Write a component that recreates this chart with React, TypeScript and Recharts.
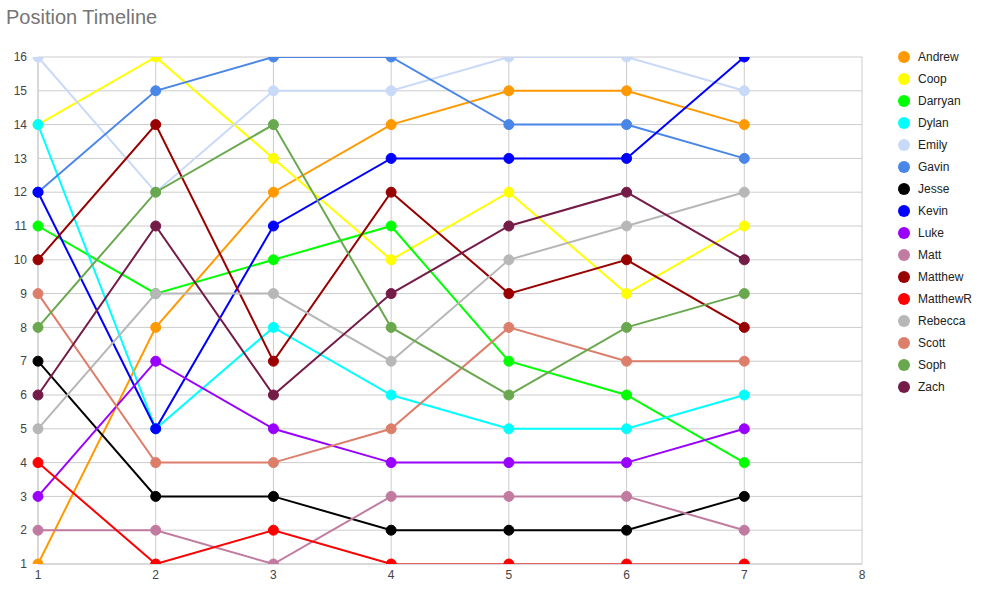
import { LineChart, Line, XAxis, YAxis, CartesianGrid } from 'recharts'

const rounds = [1, 2, 3, 4, 5, 6, 7]
const xTicks = [1, 2, 3, 4, 5, 6, 7, 8]
const yTicks = [1, 2, 3, 4, 5, 6, 7, 8, 9, 10, 11, 12, 13, 14, 15, 16]

const andrew = [1, 8, 12, 14, 15, 15, 14]
const coop = [14, 16, 13, 10, 12, 9, 11]
const darryan = [11, 9, 10, 11, 7, 6, 4]
const dylan = [14, 5, 8, 6, 5, 5, 6]
const emily = [16, 12, 15, 15, 16, 16, 15]
const gavin = [12, 15, 16, 16, 14, 14, 13]
const jesse = [7, 3, 3, 2, 2, 2, 3]
const kevin = [12, 5, 11, 13, 13, 13, 16]
const luke = [3, 7, 5, 4, 4, 4, 5]
const matt = [2, 2, 1, 3, 3, 3, 2]
const matthew = [10, 14, 7, 12, 9, 10, 8]
const matthewR = [4, 1, 2, 1, 1, 1, 1]
const rebecca = [5, 9, 9, 7, 10, 11, 12]
const scott = [9, 4, 4, 5, 8, 7, 7]
const soph = [8, 12, 14, 8, 6, 8, 9]
const zach = [6, 11, 6, 9, 11, 12, 10]

const series = [
  { name: 'Andrew', values: andrew, color: '#ff9900' },
  { name: 'Coop', values: coop, color: '#ffff00' },
  { name: 'Darryan', values: darryan, color: '#00ff00' },
  { name: 'Dylan', values: dylan, color: '#00ffff' },
  { name: 'Emily', values: emily, color: '#c9daf8' },
  { name: 'Gavin', values: gavin, color: '#4a86e8' },
  { name: 'Jesse', values: jesse, color: '#000000' },
  { name: 'Kevin', values: kevin, color: '#0000ff' },
  { name: 'Luke', values: luke, color: '#9900ff' },
  { name: 'Matt', values: matt, color: '#c27ba0' },
  { name: 'Matthew', values: matthew, color: '#990000' },
  { name: 'MatthewR', values: matthewR, color: '#ff0000' },
  { name: 'Rebecca', values: rebecca, color: '#b7b7b7' },
  { name: 'Scott', values: scott, color: '#dd7e6b' },
  { name: 'Soph', values: soph, color: '#6aa84f' },
  { name: 'Zach', values: zach, color: '#741b47' },
]

const data = rounds.map((r, i) => {
  const row: Record<string, number> = { round: r }
  series.forEach((s) => { row[s.name] = s.values[i] })
  return row
})

const font = '"Liberation Sans", Arial, sans-serif'

function LegendList() {
  return (
    <div style={{ position: 'absolute', left: 898, top: 46, fontFamily: font, fontSize: 12, color: '#222' }}>
      {series.map((s) => (
        <div key={s.name} style={{ display: 'flex', alignItems: 'center', height: 22 }}>
          <span style={{ width: 12, height: 12, borderRadius: 6, background: s.color, display: 'inline-block', marginRight: 8 }} />
          <span>{s.name}</span>
        </div>
      ))}
    </div>
  )
}

export default function App() {
  return (
    <div style={{ position: 'absolute', left: 0, top: 0, width: 987, height: 589, background: '#fff' }}>
      <div style={{ position: 'absolute', left: 6, top: 6, fontFamily: font, fontSize: 20, color: '#757575' }}>
        Position Timeline
      </div>
      <LineChart width={987} height={589} data={data} margin={{ top: 57, right: 125, bottom: 0, left: 0 }}>
        <CartesianGrid stroke="#cccccc" />
        <XAxis
          dataKey="round" type="number" domain={[1, 8]} ticks={xTicks}
          height={25} tickLine={false} axisLine={{ stroke: '#cccccc' }} tickMargin={0}
          tick={{ fontSize: 12, fill: '#444', fontFamily: font }}
        />
        <YAxis
          type="number" domain={[1, 16]} ticks={yTicks} allowDataOverflow
          width={38} tickLine={false} axisLine={{ stroke: '#cccccc' }} tickMargin={5}
          tick={{ fontSize: 12, fill: '#444', fontFamily: font }}
        />
        {series.map((s) => (
          <Line
            key={s.name} dataKey={s.name} stroke={s.color} strokeWidth={2}
            dot={{ r: 5, fill: s.color, stroke: s.color, strokeWidth: 1 }}
            activeDot={false} isAnimationActive={false}
          />
        ))}
      </LineChart>
      <LegendList />
    </div>
  )
}
